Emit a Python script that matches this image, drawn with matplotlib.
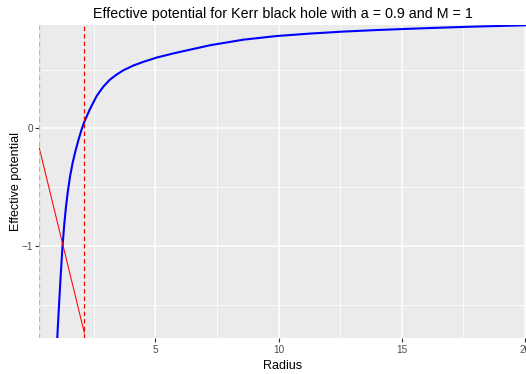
import matplotlib
matplotlib.use("Agg")
import matplotlib.pyplot as plt
from matplotlib.ticker import FixedLocator

plt.rcParams["font.family"] = ["Liberation Sans", "DejaVu Sans"]

# effective potential (radius, value)
radius = [1.00, 1.025, 1.09, 1.16, 1.24, 1.31, 1.37, 1.45, 1.54, 1.65, 1.77,
          1.88, 2.01, 2.12, 2.35, 2.62, 2.89, 3.16, 3.43, 3.70, 4.11, 4.51,
          5.06, 5.73, 6.41, 7.23, 8.57, 9.92, 11.28, 12.63, 13.98, 15.33,
          16.68, 18.04, 19.93, 20.2]
potential = [-1.90, -1.775, -1.52, -1.26, -0.99, -0.81, -0.68, -0.54, -0.41,
             -0.29, -0.185, -0.10, -0.01, 0.056, 0.165, 0.275, 0.355, 0.415,
             0.458, 0.494, 0.535, 0.566, 0.603, 0.638, 0.670, 0.708, 0.755,
             0.786, 0.807, 0.824, 0.837, 0.848, 0.858, 0.867, 0.877, 0.878]

# straight red line
line_r = [0.294, 2.12]
line_v = [-0.168, -1.74]

# vertical markers
inner_r = 0.30
outer_r = 2.12

x_major = [5, 10, 15, 20]
x_minor = [2.5, 7.5, 12.5, 17.5]
y_major = [-1, 0]
y_minor = [-1.5, -0.5, 0.5]

fig = plt.figure(figsize=(5.26, 3.74), dpi=100)
ax = fig.add_axes([39.3 / 526, 1 - 337.5 / 374, 1 - 39.3 / 526, (337.5 - 25) / 374])
ax.set_facecolor("#EBEBEB")
for s in ax.spines.values():
    s.set_visible(False)

ax.plot(radius, potential, color="blue", lw=1.5, zorder=3)
ax.plot(line_r, line_v, color="red", lw=0.75, zorder=3)
ax.axvline(outer_r, color="red", lw=0.9, ls=(0, (3.5, 2.5)), zorder=3)
ax.axvline(inner_r, color="#7FE07F", lw=1.0, ls=(0, (3.5, 2.5)), zorder=3)

ax.set_xlim(0.294, 20.04)
ax.set_ylim(-1.78, 0.88)

ax.xaxis.set_major_locator(FixedLocator(x_major))
ax.xaxis.set_minor_locator(FixedLocator(x_minor))
ax.yaxis.set_major_locator(FixedLocator(y_major))
ax.yaxis.set_minor_locator(FixedLocator(y_minor))
ax.grid(which="major", color="white", lw=1.1)
ax.grid(which="minor", color="white", lw=0.55)
ax.set_axisbelow(True)
ax.tick_params(which="major", length=2.7, width=0.8, color="#333333",
               labelcolor="#4D4D4D", labelsize=7.2)
ax.tick_params(axis="x", pad=2.5)
ax.tick_params(axis="y", pad=1.5)
ax.tick_params(which="minor", length=0)

ax.set_xlabel("Radius", fontsize=9)
ax.set_ylabel("Effective potential", fontsize=9)
ax.xaxis.set_label_coords(0.5, -0.071)
ax.yaxis.set_label_coords(-0.035, 0.5)
ax.set_title("Effective potential for Kerr black hole with a = 0.9 and M = 1",
             fontsize=10.3, pad=5)

fig.savefig("out.png", dpi=100)
